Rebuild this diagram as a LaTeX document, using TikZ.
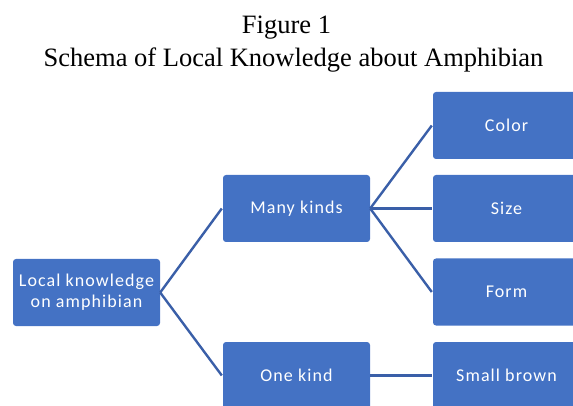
\documentclass[tikz,border=0pt]{standalone}
\usepackage{fontspec}
\setmainfont{Liberation Serif}
\newfontfamily\boxfont[LetterSpace=6]{Carlito}
\definecolor{boxblue}{HTML}{4472C4}
\definecolor{linkblue}{HTML}{3A5FA8}
\begin{document}
\begin{tikzpicture}[x=1pt,y=1pt,
  box/.style={fill=boxblue,draw=none,rounded corners=3pt,minimum width=147pt,minimum height=67pt,
    text=white,font=\boxfont\fontsize{18}{21}\selectfont,align=center,inner sep=0pt},
  link/.style={draw=linkblue,line width=2.4pt}]
\useasboundingbox (0,0) rectangle (573,-406);
\node[anchor=base,font=\fontsize{26.5}{30}\selectfont] (t1) at (286.5,-34) {Figure 1};
\node[anchor=base,font=\fontsize{26.5}{30}\selectfont] (t2) at (293.5,-67) {Schema of Local Knowledge about Amphibian};
\node[box] (root) at (86.5,-292.5) {Local knowledge\\on amphibian};
\node[box] (many) at (296.5,-208.5) {Many kinds};
\node[box] (one) at (296.5,-375.5) {One kind};
\node[box] (color) at (506.5,-125.5) {Color};
\node[box] (size) at (506.5,-208.5) {Size};
\node[box] (form) at (506.5,-292) {Form};
\node[box] (small) at (506.5,-375.5) {Small brown};
\draw[link] (root.east) -- ([xshift=-1pt]many.west);
\draw[link] (root.east) -- ([xshift=-1pt]one.west);
\draw[link] (many.east) -- ([xshift=-1pt]color.west);
\draw[link] (many.east) -- ([xshift=-1pt]size.west);
\draw[link] (many.east) -- ([xshift=-1pt]form.west);
\draw[link] (one.east) -- ([xshift=-1pt]small.west);
\end{tikzpicture}
\end{document}
